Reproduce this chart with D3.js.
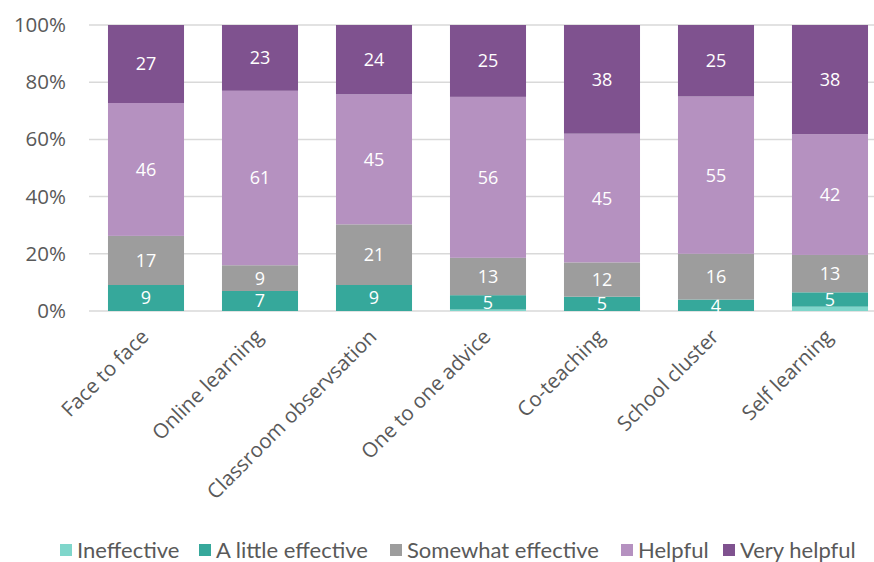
<!DOCTYPE html>
<html>
<head>
<meta charset="utf-8">
<script src="https://cdn.jsdelivr.net/npm/d3@7"></script>
<style>
  body { margin: 0; background: #fff; }
  svg { display: block; }
</style>
</head>
<body>
<svg width="874" height="562"></svg>
<script>
const categories = ["Face to face", "Online learning", "Classroom observsation", "One to one advice", "Co-teaching", "School cluster", "Self learning"];
const seriesNames = ["Ineffective", "A little effective", "Somewhat effective", "Helpful", "Very helpful"];
const ineffective = [0, 0, 0, 0.5, 0, 0, 1.5];
const littleEffective = [9, 7, 9, 5, 5, 4, 5];
const somewhatEffective = [17, 9, 21, 13, 12, 16, 13];
const helpful = [46, 61, 45, 56, 45, 55, 42];
const veryHelpful = [27, 23, 24, 25, 38, 25, 38];
const yTicks = [0, 0.2, 0.4, 0.6, 0.8, 1];
const colors = ["#7fd6cb", "#36a89b", "#9d9d9d", "#b591c0", "#7f528f"];

const seriesValues = [ineffective, littleEffective, somewhatEffective, helpful, veryHelpful];

// build rows for d3.stack
const rows = categories.map((c, i) => {
    const r = { category: c };
    seriesNames.forEach((s, j) => r[s] = seriesValues[j][i]);
    return r;
});

const svg = d3.select("svg");

const xScale = d3.scaleBand()
    .domain(categories)
    .range([89, 887])
    .paddingInner(0.333)
    .paddingOuter(0.1665);

const yScale = d3.scaleLinear()
    .domain([0, 1])
    .range([311, 25]);

const stack = d3.stack()
    .keys(seriesNames)
    .offset(d3.stackOffsetExpand);
const stacked = stack(rows);

// gridlines
svg.append("g")
    .selectAll("line")
    .data(yTicks)
    .enter().append("line")
    .attr("x1", 89)
    .attr("x2", 874)
    .attr("y1", d => yScale(d))
    .attr("y2", d => yScale(d))
    .attr("stroke", "#d9d9d9")
    .attr("stroke-width", 1.5);

// y axis labels
const yAxis = d3.axisLeft(yScale)
    .tickValues(yTicks)
    .tickFormat(d3.format(".0%"))
    .tickSize(0)
    .tickPadding(0);
const yg = svg.append("g")
    .attr("transform", "translate(66,0)")
    .call(yAxis);
yg.select(".domain").remove();
yg.selectAll("text")
    .attr("fill", "#595959")
    .style("font-family", "'Open Sans', sans-serif")
    .style("font-size", "20.5px");

// bars
const layers = svg.append("g")
    .selectAll("g")
    .data(stacked)
    .enter().append("g")
    .attr("fill", (d, i) => colors[i]);

layers.selectAll("rect")
    .data(d => d)
    .enter().append("rect")
    .attr("x", d => xScale(d.data.category))
    .attr("y", d => yScale(d[1]))
    .attr("width", xScale.bandwidth())
    .attr("height", d => yScale(d[0]) - yScale(d[1]));

// data labels (ineffective has none)
layers.filter((d, i) => i > 0)
    .selectAll("text")
    .data(d => d.map(p => ({ p: p, key: d.key })))
    .enter().append("text")
    .attr("x", d => xScale(d.p.data.category) + xScale.bandwidth() / 2)
    .attr("y", d => (yScale(d.p[0]) + yScale(d.p[1])) / 2)
    .attr("dy", "0.36em")
    .attr("text-anchor", "middle")
    .attr("fill", "#fff")
    .style("font-family", "'Open Sans', sans-serif")
    .style("font-size", "18px")
    .text(d => d.p.data[d.key]);

// x axis labels, rotated
svg.append("g")
    .selectAll("text")
    .data(categories)
    .enter().append("text")
    .attr("transform", d => `translate(${xScale(d) + xScale.bandwidth() / 2 + 4},${338}) rotate(-45)`)
    .attr("text-anchor", "end")
    .attr("fill", "#595959")
    .style("font-family", "'Open Sans', sans-serif")
    .style("font-size", "20.5px")
    .text(d => d);

// legend
const legendX = [60, 199, 390, 621, 723];
const legend = svg.append("g")
    .selectAll("g")
    .data(seriesNames)
    .enter().append("g")
    .attr("transform", (d, i) => `translate(${legendX[i]},550)`);
legend.append("rect")
    .attr("x", 0)
    .attr("y", -6)
    .attr("width", 12)
    .attr("height", 12)
    .attr("fill", (d, i) => colors[i]);
legend.append("text")
    .attr("x", 17)
    .attr("dy", "0.36em")
    .attr("fill", "#595959")
    .style("font-family", "Lato, sans-serif")
    .style("font-size", "22px")
    .text(d => d);
</script>
</body>
</html>
